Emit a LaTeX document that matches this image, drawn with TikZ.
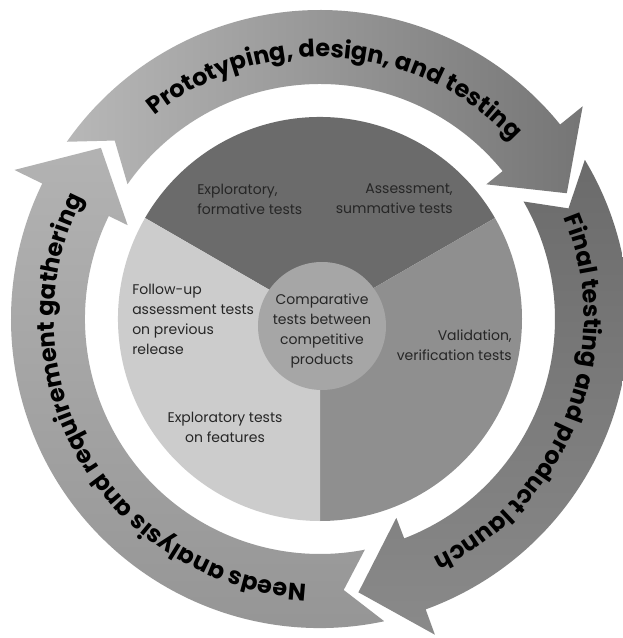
\documentclass[tikz,border=0pt]{standalone}
\usepackage{fontspec}
\setmainfont{Poppins}
\usetikzlibrary{decorations.text}

\newcommand{\ringfont}{\fontsize{18}{21}\selectfont\bfseries}

\begin{document}
\begin{tikzpicture}[x=0.75pt, y=0.75pt]
    % --- Style Definitions ---
    \tikzset{
        % Pie sectors
        top sector/.style={fill=black!58},
        right sector/.style={fill=black!44},
        left sector/.style={fill=black!20},
        hub style/.style={fill=black!35},
        % Curved arrows of the cycle
        top arrow/.style={left color=black!28, right color=black!54},
        right arrow/.style={top color=black!58, bottom color=black!46},
        left arrow/.style={top color=black!30, bottom color=black!42},
        % Text styling
        sector text/.style={font=\fontsize{10.5}{15}\selectfont, text=black!85, inner sep=0pt},
        ring text/.style={decorate, decoration={text along path, text align=center, text={#1}}}
    }

    % background / page size
    \fill[white] (-320,-319) rectangle (303,319);
    \useasboundingbox (-320,-319) rectangle (303,319);

    % ==========================================
    % INNER PIE
    % ==========================================
    \fill[top sector] (0,0) -- (30:202) arc[start angle=30, end angle=150, radius=202] -- cycle;
    \fill[right sector] (0,0) -- (-90:202) arc[start angle=-90, end angle=30, radius=202] -- cycle;
    \fill[left sector] (0,0) -- (150:202) arc[start angle=150, end angle=270, radius=202] -- cycle;
    \fill[hub style] (2,-7) circle[radius=64];

    % Labels
    \node[sector text, anchor=west, align=left] (explor) at (-123,120) {Exploratory,\\formative tests};
    \node[sector text, anchor=east, align=right] (assess) at (133,120) {Assessment,\\summative tests};
    \node[sector text, anchor=west, align=left] (followup) at (-188,0) {Follow-up\\assessment tests\\on previous\\release};
    \node[sector text, align=center] (compar) at (2,-12) {Comparative\\tests between\\competitive\\products};
    \node[sector text, anchor=east, align=right] (valid) at (192,-26) {Validation,\\verification tests};
    \node[sector text, align=center] (features) at (-95,-108) {Exploratory tests\\on features};

    % ==========================================
    % OUTER CYCLE ARROWS
    % ==========================================
    % Top: prototyping
    \shade[top arrow] (145:309) arc[start angle=145, end angle=39, radius=309]
        -- (39:338) -- (27:277) -- (39:214) -- (39:235)
        arc[start angle=39, end angle=145, radius=235] -- (139:272) -- cycle;
    % Right: final testing
    \shade[right arrow] (31:309) arc[start angle=31, end angle=-70, radius=309]
        -- (-70:336) -- (-82:276) -- (-69:213) -- (-69:235)
        arc[start angle=-69, end angle=30, radius=235] -- (24:272) -- cycle;
    % Left: needs analysis
    \shade[left arrow] (-78:309) arc[start angle=-78, end angle=-206, radius=309]
        -- (-206:340) -- (-218:278) -- (-206:214) -- (-206:235)
        arc[start angle=-206, end angle=-79, radius=235] -- (-85:272) -- cycle;

    % Arrow texts
    \path[ring text={|\ringfont|Prototyping, design, and testing}]
        (142:262) arc[start angle=142, end angle=30, radius=262];
    \path[ring text={|\ringfont|Final testing and product launch}]
        (34:264) arc[start angle=34, end angle=-76, radius=264];
    \path[ring text={|\ringfont|Needs analysis and requirement gathering}]
        (-80:266) arc[start angle=-80, end angle=-220, radius=266];

\end{tikzpicture}
\end{document}
